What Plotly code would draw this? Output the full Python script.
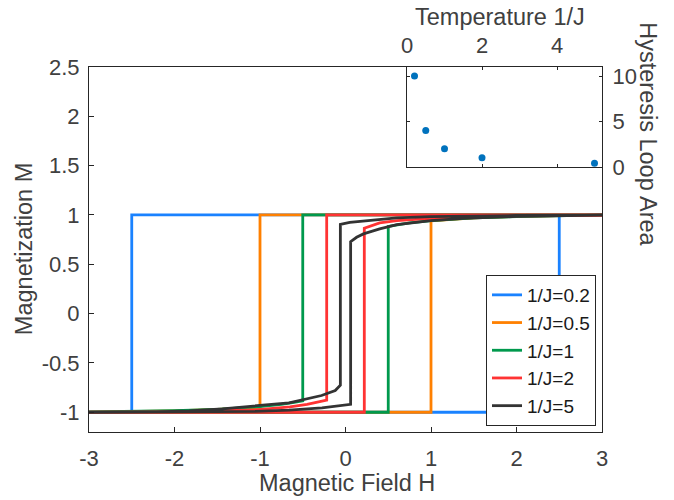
import plotly.graph_objects as go

# ---- hysteresis loops: field H and magnetization M along each closed loop ----
# (ascending branch from H=-3 to 3, then descending branch back to -3)
temps = ["0.2", "0.5", "1", "2", "5"]

h_02 = [-3, 2.5, 2.5, 3, -2.5, -2.5, -3]
m_02 = [-1, -1, 1, 1, 1, -1, -1]

h_05 = [-3, 1.0, 1.0, 1.2, 1.5, 2.0, 2.5, 3, 3, -1.0, -1.0, -1.2, -1.5, -2.0, -2.5, -3]
m_05 = [-1, -1, 0.94, 0.955, 0.972, 0.986, 0.994, 0.998, 1, 1, -0.95, -0.958, -0.972, -0.986, -0.994, -0.998]

h_1 = [-3, 0.5, 0.5, 0.6, 0.75, 1.0, 1.5, 2.0, 3, 3, -0.5, -0.5, -0.6, -0.75, -1.0, -1.5, -2.0, -3]
m_1 = [-1, -1, 0.885, 0.9, 0.92, 0.943, 0.97, 0.984, 0.996, 1, 1, -0.885, -0.9, -0.92, -0.943, -0.97, -0.984, -0.996]

h_2 = [-3, 0.22, 0.22, 0.4, 0.6, 1.0, 1.5, 2.0, 3, 3, -0.22, -0.22, -0.45, -0.65, -1.05, -1.5, -2.0, -3]
m_2 = [-1, -1, 0.865, 0.92, 0.943, 0.965, 0.98, 0.99, 0.997, 1, 1, -0.877, -0.92, -0.945, -0.975, -0.988, -0.995, -1]

h_5 = [-3, -2.2, -1.85, -1.05, -0.66, -0.275, 0.06, 0.06, 0.13, 0.21, 0.40, 0.60, 1.0, 1.37, 2.0, 3,
       3, 2.0, 1.37, 0.99, 0.6, 0.21, 0.05, -0.06, -0.06, -0.12, -0.28, -0.66, -1.05, -1.44, -1.83, -2.22, -3]
m_5 = [-1, -0.998, -0.995, -0.99, -0.978, -0.955, -0.92, 0.73, 0.774, 0.808, 0.859, 0.903, 0.943, 0.966, 0.985, 0.996,
       0.999, 0.995, 0.99, 0.983, 0.97, 0.943, 0.926, 0.905, -0.725, -0.78, -0.83, -0.904, -0.938, -0.965, -0.985, -0.995, -1]

loops_h = [h_02, h_05, h_1, h_2, h_5]
loops_m = [m_02, m_05, m_1, m_2, m_5]
colors = ["#1a82ff", "#ff8000", "#00994d", "#ff3333", "#333333"]

# ---- inset: loop area versus temperature ----
inset_t = [0.2, 0.5, 1, 2, 5]
inset_area = [10, 4, 2, 1, 0.4]

# tick labels
x_ticks = [-3, -2, -1, 0, 1, 2, 3]
x_ticktext = ["-3", "-2", "-1", "0", "1", "2", "3"]
y_ticks = [-1, -0.5, 0, 0.5, 1, 1.5, 2, 2.5]
y_ticktext = ["-1", "-0.5", "0", "0.5", "1", "1.5", "2", "2.5"]

FONT = "Liberation Sans"
TXT = "#404040"
AX = "#262626"
FS = 22      # tick labels
FT = 23.5    # axis titles

fig = go.Figure()
for t, hh, mm, c in zip(temps, loops_h, loops_m, colors):
    fig.add_trace(go.Scatter(x=hh, y=mm, mode="lines", name=f"1/J={t}",
                             line=dict(color=c, width=2.8), xaxis="x", yaxis="y"))

fig.add_trace(go.Scatter(x=inset_t, y=inset_area, mode="markers", showlegend=False,
                         marker=dict(color="#0072bd", size=7), xaxis="x2", yaxis="y2"))

W, H = 674, 500
ml, mr, mt, mb = 89, 72, 66.7, 68
pw = W - ml - mr
ph = H - mt - mb


def px_x(p):
    return (p - ml) / pw


def px_y(p):
    return (H - mb - p) / ph


common = dict(showline=True, linecolor=AX, linewidth=1, showgrid=False, zeroline=False,
              automargin=False, ticks="inside", tickcolor=AX,
              tickfont=dict(family=FONT, size=FS, color=TXT))

fig.update_layout(
    width=W, height=H,
    margin=dict(l=ml, r=mr, t=mt, b=mb, pad=0),
    paper_bgcolor="white", plot_bgcolor="white",
    font=dict(family=FONT, size=FS, color=TXT),
    xaxis=dict(range=[-3, 3], domain=[0, 1], tickvals=x_ticks, ticktext=x_ticktext,
               ticklen=5, mirror=True, ticklabelstandoff=7, **common),
    yaxis=dict(range=[-1.2, 2.5], domain=[0, 1], tickvals=y_ticks, ticktext=y_ticktext,
               ticklen=5, mirror=True, ticklabelstandoff=4, **common),
    # mirrored ticks of the main box, kept outside the inset
    xaxis3=dict(range=[-3, 3], overlaying="x", side="top", anchor="y", tickvals=[-3, -2, -1, 0],
                showticklabels=False, ticklen=5, ticks="inside", tickcolor=AX, automargin=False,
                showline=False, showgrid=False, zeroline=False),
    yaxis3=dict(range=[-1.2, 2.5], overlaying="y", side="right", anchor="x", tickvals=[-1, -0.5, 0, 0.5, 1],
                showticklabels=False, ticklen=5, ticks="inside", tickcolor=AX, automargin=False,
                showline=False, showgrid=False, zeroline=False),
    xaxis2=dict(range=[0, 5.2], domain=[px_x(407), 1], anchor="y2", side="top",
                tickvals=[0, 2, 4], ticklen=3, mirror="ticks", ticklabelstandoff=4, **common),
    yaxis2=dict(range=[0, 11], domain=[px_y(166.7), 1], anchor="x2", side="right",
                tickvals=[0, 5, 10], ticklen=3, mirror="ticks", ticklabelstandoff=5, **common),
    legend=dict(x=px_x(596), y=px_y(426), xanchor="right", yanchor="bottom",
                bgcolor="white", bordercolor=AX, borderwidth=1,
                font=dict(family=FONT, size=19, color="#1a1a1a"),
                tracegroupgap=0, itemwidth=30),
    showlegend=True,
)

# axis titles
title_font = dict(family=FONT, size=FT, color=TXT)
fig.add_annotation(text="Magnetic Field H", xref="paper", yref="paper",
                   x=px_x(347), y=px_y(483), xanchor="center", yanchor="middle",
                   showarrow=False, font=title_font)
fig.add_annotation(text="Magnetization M", textangle=-90, xref="paper", yref="paper",
                   x=px_x(24), y=px_y(249), xanchor="center", yanchor="middle",
                   showarrow=False, font=title_font)
fig.add_annotation(text="Temperature 1/J", xref="paper", yref="paper",
                   x=px_x(500), y=px_y(17), xanchor="center", yanchor="middle",
                   showarrow=False, font=title_font)
fig.add_annotation(text="Hysteresis Loop Area", textangle=90, xref="paper", yref="paper",
                   x=px_x(648), y=px_y(134), xanchor="center", yanchor="middle",
                   showarrow=False, font=title_font)

fig.write_html("out.html")
